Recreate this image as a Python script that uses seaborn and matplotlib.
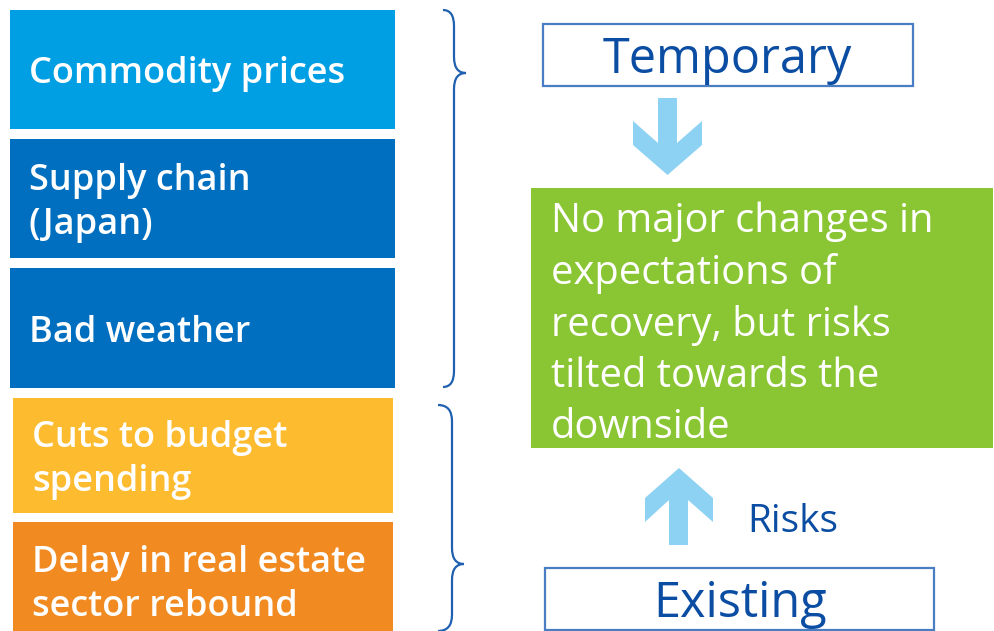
import matplotlib
matplotlib.use("Agg")
import matplotlib.pyplot as plt
import seaborn as sns
from matplotlib.patches import Rectangle, Polygon, PathPatch
from matplotlib.path import Path

sns.set_theme(style="white")
plt.rcParams['font.family'] = ['Open Sans', 'DejaVu Sans']

# ---- content ----
left_labels = ["Commodity prices", "Supply chain\n(Japan)", "Bad weather",
               "Cuts to budget\nspending", "Delay in real estate\nsector rebound"]
left_colors = ["#009FE3", "#006FC0", "#006FC0", "#FDBB30", "#F18A21"]
top_label = "Temporary"
bottom_label = "Existing"
center_text = ["No major changes in", "expectations of", "recovery, but risks",
               "tilted towards the", "downside"]
risk_label = "Risks"

TEXT_BLUE = "#0B4DA2"
BORDER = "#4A7EC3"
ARROW = "#8ED2F3"
GREEN = "#8AC634"

fig = plt.figure(figsize=(9.94, 6.31), dpi=100)
ax = fig.add_axes([0, 0, 1, 1])
ax.set_xlim(0, 994)
ax.set_ylim(631, 0)
ax.axis("off")

# left boxes (x0, y0, x1, y1)
boxes = [(10, 10, 395, 129), (10, 139, 395, 258), (10, 268, 395, 388),
         (13, 398, 393, 513), (13, 522, 393, 631)]
text_y = [74, 203, 333, 460, 585]
for (x0, y0, x1, y1), ty, lab, col in zip(boxes, text_y, left_labels, left_colors):
    ax.add_patch(Rectangle((x0, y0), x1 - x0, y1 - y0, color=col, lw=0))
    ax.text(x0 + 19, ty, lab, color="white", fontsize=26,
            fontweight="semibold", va="center", ha="left", linespacing=1.3)


def brace(xl, xm, xt, top, tip, bot, r=16):
    verts = [(xl, top), (xm, top), (xm, top + r),
             (xm, tip - r), (xm, tip), (xt, tip),
             (xt, tip), (xm, tip), (xm, tip + r),
             (xm, bot - r), (xm, bot), (xl, bot)]
    codes = [Path.MOVETO, Path.CURVE3, Path.CURVE3,
             Path.LINETO, Path.CURVE3, Path.CURVE3,
             Path.MOVETO, Path.CURVE3, Path.CURVE3,
             Path.LINETO, Path.CURVE3, Path.CURVE3]
    ax.add_patch(PathPatch(Path(verts, codes), fill=False, ec="#2060B0", lw=1.6))


brace(443, 454, 466, 10, 73, 387)
brace(438, 452, 464, 405, 564, 631)

# Temporary box
ax.add_patch(Rectangle((543, 24), 370, 62, fc="white", ec=BORDER, lw=1.6))
ax.text(727, 60, top_label, color=TEXT_BLUE, fontsize=35, ha="center", va="center")

# Existing box
ax.add_patch(Rectangle((545, 568), 389, 62, fc="white", ec=BORDER, lw=1.6))
ax.text(740, 604, bottom_label, color=TEXT_BLUE, fontsize=35, ha="center", va="center")

# down arrow
down = [(658, 98), (677, 98), (677, 143), (702, 121), (702, 145), (667.5, 175),
        (633, 145), (633, 121), (658, 143)]
ax.add_patch(Polygon(down, closed=True, fc=ARROW, ec="none"))
# up arrow
up = [(669, 545), (688, 545), (688, 500), (713, 522), (713, 498), (679, 468),
      (645, 498), (645, 522), (669, 500)]
ax.add_patch(Polygon(up, closed=True, fc=ARROW, ec="none"))

ax.text(747, 522, risk_label, color=TEXT_BLUE, fontsize=28, ha="left", va="center")

# green box
ax.add_patch(Rectangle((531, 188), 462, 260, color=GREEN, lw=0))
for i, line in enumerate(center_text):
    ax.text(551, 222 + i * 51.5, line, color="white", fontsize=28.7,
            ha="left", va="center")

fig.savefig("out.png", dpi=100)
